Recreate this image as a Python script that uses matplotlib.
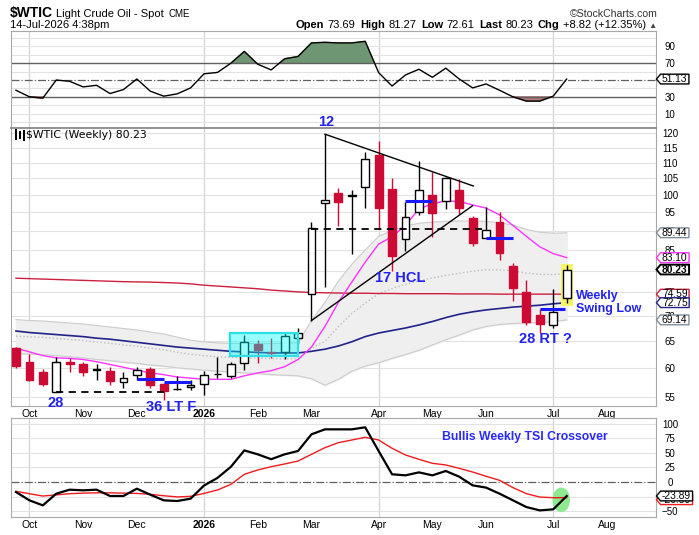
import numpy as np
import pandas as pd
import matplotlib
matplotlib.use('Agg')
import matplotlib.pyplot as plt
from matplotlib.path import Path
from matplotlib.patches import Rectangle, Ellipse

plt.rcParams['font.family'] = ['Liberation Sans', 'DejaVu Sans']

# ---------------- data ----------------
start_week = '2025-09-29'
opens = [63.6, 61.0, 59.2, 55.9, 61.1, 60.7, 59.8, 59.5, 57.5, 58.7, 59.8, 57.2, 56.35, 56.7,
         57.2, 59.0, 58.5, 60.8, 64.3, 62.8, 62.9, 65.5, 74.6, 97.6, 100.5, 99.9, 102.3, 112.6,
         101.7, 87.8, 95.2, 100.0, 98.1, 101.5, 93.4, 88.0, 92.4, 81.1, 75.1, 70.15, 68.0, 73.69]
highs = [63.8, 62.5, 59.8, 62.0, 61.8, 61.0, 60.7, 60.2, 59.3, 60.1, 60.1, 57.3, 58.5, 57.9,
         59.5, 61.9, 61.0, 66.1, 65.1, 65.5, 66.7, 67.5, 92.3, 119.7, 102.0, 101.5, 113.4, 117.3,
         105.3, 97.9, 110.6, 107.0, 105.6, 104.8, 94.0, 96.6, 95.2, 81.9, 77.8, 71.4, 75.7, 81.27]
lows = [59.9, 57.7, 56.8, 55.8, 59.3, 58.5, 57.8, 57.0, 56.6, 57.8, 56.6, 54.5, 56.2, 56.2,
        55.3, 58.2, 58.2, 59.6, 60.8, 61.8, 61.5, 64.3, 69.0, 76.3, 91.3, 83.9, 96.2, 90.4,
        79.9, 84.8, 94.3, 88.2, 96.0, 94.5, 85.9, 88.0, 82.5, 73.2, 68.1, 66.6, 67.4, 72.61]
closes = [60.4, 57.8, 57.2, 61.1, 60.6, 59.3, 59.7, 57.7, 58.2, 59.7, 57.0, 56.1, 56.3, 57.1,
          58.7, 58.9, 60.6, 64.8, 63.2, 62.7, 66.0, 66.6, 90.6, 98.6, 97.9, 99.8, 111.1, 96.1,
          83.4, 93.8, 101.4, 94.9, 105.1, 96.1, 86.9, 90.1, 84.3, 76.0, 68.8, 68.3, 70.8, 80.23]

ma_short = [63.6, 62.9, 62.2, 61.8, 61.7, 61.5, 61.1, 60.6, 60.1, 59.6, 59.1, 58.8, 58.4, 58.2,
            58.0, 58.0, 58.0, 58.6, 59.1, 59.5, 60.2, 61.5, 63.8, 67.8, 72.8, 77.3, 82.0, 86.5,
            88.4, 91.4, 96.0, 97.4, 98.3, 98.1, 97.1, 96.2, 94.3, 91.4, 88.5, 85.8, 84.1, 83.10]
ma_mid = [66.9, 66.6, 66.4, 66.2, 66.0, 65.8, 65.5, 65.3, 65.0, 64.7, 64.4, 64.1, 63.8, 63.6,
          63.4, 63.2, 63.0, 62.9, 62.8, 62.7, 62.7, 62.7, 63.0, 63.4, 64.0, 64.8, 65.8, 66.5,
          67.0, 67.5, 68.1, 68.8, 69.6, 70.3, 70.8, 71.2, 71.5, 71.8, 72.0, 72.2, 72.5, 72.75]
ma_long = [78.2, 78.1, 78.0, 77.9, 77.8, 77.7, 77.6, 77.5, 77.4, 77.35, 77.3, 77.2, 77.1, 76.9,
           76.6, 76.4, 76.2, 76.0, 75.8, 75.5, 75.3, 75.1, 74.95, 74.9, 74.85, 74.8, 74.8, 74.75,
           74.75, 74.7, 74.7, 74.7, 74.7, 74.65, 74.65, 74.65, 74.6, 74.6, 74.6, 74.6, 74.6, 74.59]
bb_upper = [69.2, 69.0, 68.9, 68.7, 68.5, 68.3, 68.0, 67.7, 67.4, 67.1, 66.7, 66.3, 65.7, 65.1,
            64.8, 64.6, 64.5, 64.5, 64.5, 64.5, 64.5, 64.6, 69.0, 72.8, 77.5, 81.5, 85.0, 88.5,
            90.0, 91.2, 92.0, 92.3, 92.5, 92.6, 92.6, 92.5, 92.1, 91.5, 90.3, 89.6, 89.3, 89.44]
bb_lower = [62.6, 62.5, 62.4, 62.2, 62.0, 61.8, 61.5, 61.3, 61.0, 60.8, 60.5, 60.3, 60.0, 59.8,
            59.6, 59.4, 59.3, 59.1, 59.0, 58.8, 58.7, 58.6, 58.1, 57.0, 58.0, 59.4, 60.3, 60.9,
            61.7, 62.4, 63.2, 64.2, 65.2, 66.1, 67.1, 67.8, 68.2, 68.4, 68.5, 68.6, 68.8, 69.14]

rsi = [37.8, 30.0, 28.4, 50.0, 48.4, 41.8, 43.7, 33.9, 38.6, 51.2, 36.7, 30.8, 33.5, 40.6,
       57.4, 59.0, 70.0, 84.0, 68.8, 62.0, 75.2, 78.0, 94.1, 94.8, 94.1, 94.1, 96.0, 58.8,
       42.8, 56.0, 62.8, 53.2, 64.1, 51.2, 40.6, 45.3, 37.8, 30.0, 24.9, 24.9, 30.8, 51.13]

tsi = [-17.1, -31.3, -39.9, -19.9, -13.1, -14.2, -13.1, -23.9, -23.9, -11.4, -21.7, -31.3, -32.5,
       -28.5, -6.0, 7.0, 26.0, 54.0, 47.3, 39.0, 47.3, 53.0, 81.5, 90.0, 90.0, 90.0, 93.5, 53.0,
       13.2, 11.4, 16.5, 11.4, 18.8, 9.1, -5.7, -9.6, -19.9, -31.3, -42.8, -48.5, -46.7, -23.89]
tsi_signal = [-16.0, -20.0, -24.0, -22.0, -20.0, -19.0, -18.5, -18.5, -19.0, -19.5, -21.0, -23.5,
              -25.5, -24.5, -19.5, -13.7, -4.0, 13.2, 20.5, 26.2, 30.8, 35.9, 47.3, 58.7, 67.2,
              71.8, 76.4, 71.8, 57.6, 46.2, 38.8, 32.0, 29.1, 23.4, 17.1, 9.8, 2.9, -9.6, -19.9,
              -25.7, -26.8, -26.8]

price_ticks = [55, 60, 65, 70, 75, 80, 85, 90, 95, 100, 105, 110, 115, 120]
rsi_ticks = [10, 30, 50, 70, 90]
tsi_ticks = [-50, 0, 25, 50, 75, 100]

# user drawn annotations (bar index, price)
tri_upper_idx = [23, 34.05]
tri_upper_val = [119.7, 102.7]
tri_lower_idx = [22, 34.0]
tri_lower_val = [69.0, 96.9]
dashed_start = [3, 22]
dashed_end = [11, 34.7]
dashed_level = [55.8, 90.4]
swing_start = [9, 11, 29, 35, 39]
swing_end = [11, 13, 31, 37, 40.9]
swing_level = [58.0, 57.6, 98.1, 88.0, 71.4]

# ---------------- layout ----------------
W, H = 699, 535
fig = plt.figure(figsize=(W / 100, H / 100), dpi=100)
fig.patch.set_facecolor('white')


def axrect(x0, y0, x1, y1):
    return [x0 / W, 1 - y1 / H, (x1 - x0) / W, (y1 - y0) / H]


ax_rsi = fig.add_axes(axrect(11, 31, 656, 128))
ax = fig.add_axes(axrect(11, 128, 656, 406))
ax_tsi = fig.add_axes(axrect(11, 418, 656, 517))

n = len(closes)
x = np.arange(n)
weeks = pd.date_range(start_week, periods=n, freq='W-MON')
all_weeks = pd.date_range(start_week, periods=48, freq='W-MON')
tick_idx, tick_lab, quarter_idx = [], [], []
for k in range(1, len(all_weeks)):
    if all_weeks[k].month != all_weeks[k - 1].month:
        tick_idx.append(k)
        m = all_weeks[k].month
        tick_lab.append(str(all_weeks[k].year) if m == 1 else all_weeks[k].strftime('%b'))
        if m in (1, 4, 7, 10):
            quarter_idx.append(k)

XL = (-0.37, 47.65)
GRID = '#e2e2e2'
SPINE = '#a8a8a8'
BLUE = '#2222ee'

for a in (ax_rsi, ax, ax_tsi):
    a.set_xlim(*XL)
    for s in a.spines.values():
        s.set_color(SPINE)
        s.set_linewidth(0.8)
    for q in quarter_idx:
        a.axvline(q, color='#d4d4d4', lw=0.9, zorder=0.5)
    a.yaxis.tick_right()
    a.tick_params(axis='both', which='both', length=0)
    a.tick_params(axis='y', pad=10, labelsize=7)


def tag_box(x0, y0, width, height, mutation_size):
    cy = y0 + height / 2
    h = mutation_size * 0.95
    padx = mutation_size * 0.14
    xl, xr = x0 - padx, x0 + width + padx
    yb, yt = cy - h / 2, cy + h / 2
    tip = h * 0.42
    return Path([(xl, yb), (xr, yb), (xr, yt), (xl, yt), (xl - tip, cy), (xl, yb)], closed=True)


def tag(axis, val, ec, bold=False, dy=0, fmt='{:.2f}'):
    axis.annotate(fmt.format(val), xy=(1, val), xycoords=('axes fraction', 'data'),
                  xytext=(6, dy), textcoords='offset pixels', ha='left', va='center',
                  fontsize=7.4, fontweight='bold' if bold else 'normal', color='black',
                  annotation_clip=False, zorder=30,
                  bbox=dict(boxstyle=tag_box, fc='white', ec=ec, lw=1.4 if bold else 1.0))


# ---------------- RSI panel ----------------
rsi_a = np.array(rsi)
ax_rsi.set_ylim(-7.1, 108.3)
for g in range(0, 101, 10):
    if g not in (30, 50, 70):
        ax_rsi.axhline(g, color=GRID, lw=0.8, zorder=0.6)
ax_rsi.fill_between(x, rsi_a, 70, where=rsi_a >= 70, interpolate=True, color='#6f9672', zorder=1)
ax_rsi.fill_between(x, rsi_a, 30, where=rsi_a <= 30, interpolate=True, color='#ad7676', zorder=1)
ax_rsi.axhline(70, color='#606060', lw=1.0, zorder=1.2)
ax_rsi.axhline(30, color='#606060', lw=1.0, zorder=1.2)
ax_rsi.axhline(50, color='#606060', lw=0.9, ls='-.', zorder=1.2)
ax_rsi.plot(x, rsi_a, color='black', lw=1.0, zorder=2)
ax_rsi.set_yticks(rsi_ticks)
ax_rsi.set_xticks(tick_idx)
ax_rsi.tick_params(axis='x', labelbottom=False)
plt.setp(ax_rsi.get_yticklabels(), ha='center')
tag(ax_rsi, rsi[-1], 'black')

# ---------------- price panel ----------------
ax.set_yscale('log')
ax.set_ylim(53.6, 121.9)
ax.yaxis.set_minor_locator(matplotlib.ticker.NullLocator())
ax.set_yticks(price_ticks, [str(t) for t in price_ticks])
plt.setp(ax.get_yticklabels(), ha='center')
for t in price_ticks:
    ax.axhline(t, color=GRID, lw=0.8, zorder=0.6)
ax.spines['top'].set_color('#808080')
ax.spines['top'].set_linewidth(1.2)

bb_u = np.array(bb_upper)
bb_l = np.array(bb_lower)
ax.fill_between(x, bb_l, bb_u, color='#efefef', zorder=1)
ax.plot(x, bb_u, color='#cccccc', lw=0.8, zorder=1.1)
ax.plot(x, bb_l, color='#cccccc', lw=0.8, zorder=1.1)
ax.plot(x, (bb_u + bb_l) / 2, color='#bdbdbd', lw=1.0, ls=':', zorder=1.1)

ax.plot(x, ma_long, color='#cc1f3f', lw=1.0, zorder=2.5)
ax.plot(x, ma_mid, color='#22228a', lw=1.2, zorder=2.5)
ax.plot(x, ma_short, color='#ff33ff', lw=1.0, zorder=2.5)

# yellow highlight behind last candle
ax.add_patch(Rectangle((40.55, 72.0), 0.9, 81.5 - 72.0, facecolor='#f6f466', edgecolor='none', zorder=2.6))

# candles
RED = '#cc0a33'
o = np.array(opens); h = np.array(highs); l = np.array(lows); c = np.array(closes)
prev = np.concatenate([[o[0]], c[:-1]])
wick_cols, fcs, ecs = [], [], []
for i in range(n):
    col = RED if c[i] < prev[i] else 'black'
    wick_cols.append(col)
    ecs.append(col)
    fcs.append(col if c[i] < o[i] else 'white')
ax.vlines(x, l, h, colors=wick_cols, lw=1.0, zorder=3)
bottoms = np.minimum(o, c)
heights = np.maximum(np.abs(c - o), 0.05)
ax.bar(x, heights, bottom=bottoms, width=0.58, color=fcs, edgecolor=ecs, linewidth=1.0, zorder=4)

# cyan consolidation box
ax.add_patch(Rectangle((15.9, 62.2), 21.0 - 15.9, 66.6 - 62.2, facecolor=(0, 1, 1, 0.4),
                       edgecolor='#2ee0e6', lw=1.6, zorder=5))

# trend lines / levels
ax.plot(tri_upper_idx, tri_upper_val, color='black', lw=1.0, zorder=6)
ax.plot(tri_lower_idx, tri_lower_val, color='black', lw=1.0, zorder=6)
for s, e, v in zip(dashed_start, dashed_end, dashed_level):
    ax.plot([s, e], [v, v], color='black', lw=1.3, dashes=(4, 3), zorder=6)
for s, e, v in zip(swing_start, swing_end, swing_level):
    ax.plot([s, e], [v, v], color='#1a1aff', lw=2.2, zorder=6, solid_capstyle='butt')

# text annotations
akw = dict(color=BLUE, fontweight='bold', ha='center', va='center', zorder=12, clip_on=False)
ax.text(23.06, 124.2, '12', fontsize=10.5, **akw)
ax.text(28.6, 78.35, '17 HCL', fontsize=10.5, **akw)
ax.text(39.4, 65.3, '28 RT ?', fontsize=10.5, **akw)
ax.text(2.98, 54.0, '28', fontsize=10.5, **akw)
ax.text(11.54, 53.5, '36 LT F', fontsize=10.5, **akw)
ax.text(41.7, 74.2, 'Weekly', fontsize=9, color=BLUE, fontweight='bold', ha='left', va='center', zorder=12)
ax.text(41.7, 71.4, 'Swing Low', fontsize=9, color=BLUE, fontweight='bold', ha='left', va='center', zorder=12)

# panel title with small icon
ax.text((26 - 11) / 645, (406 - 135) / 278, '$WTIC (Weekly) 80.23', transform=ax.transAxes,
        fontsize=7.8, family='DejaVu Sans', ha='left', va='center', zorder=12)
for dx, y0, y1 in [(3.5, 129, 140), (7.5, 131, 139), (11.5, 130, 141)]:
    ax.add_patch(Rectangle(((dx) / 645, (406 - y1) / 278), 2.2 / 645, (y1 - y0) / 278,
                           transform=ax.transAxes, facecolor='black', edgecolor='none', zorder=12))

ax.set_xticks(tick_idx, tick_lab)
ax.tick_params(axis='x', pad=2, labelsize=7.5)

# value tags
tag(ax, bb_upper[-1], '#7f8c99')
tag(ax, ma_short[-1], '#ff33ff')
tag(ax, closes[-1], 'black', bold=True)
tag(ax, ma_long[-1], '#cc1f3f')
tag(ax, ma_mid[-1], '#22228a')
tag(ax, bb_lower[-1], '#7f8c99')

# ---------------- TSI panel ----------------
ax_tsi.set_ylim(-59.8, 109.4)
for g in (-50, -25, 25, 50, 75, 100):
    ax_tsi.axhline(g, color=GRID, lw=0.8, zorder=0.6)
ax_tsi.axhline(0, color='#606060', lw=0.9, ls='-.', zorder=1.2)
ax_tsi.add_patch(Ellipse((40.6, -30.5), 1.3, 42, facecolor='#8eea8e', edgecolor='none', zorder=1.5))
ax_tsi.plot(x, tsi_signal, color='#ee1c1c', lw=1.0, zorder=2)
ax_tsi.plot(x, tsi, color='black', lw=1.6, zorder=2.2)
ax_tsi.set_yticks(tsi_ticks)
plt.setp(ax_tsi.get_yticklabels(), ha='center')
ax_tsi.set_xticks(tick_idx, tick_lab)
ax_tsi.tick_params(axis='x', pad=2, labelsize=7.5)
ax_tsi.text(37.86, 76.9, 'Bullis Weekly TSI Crossover', color='#2a2aff', fontsize=8.8,
            fontweight='bold', ha='center', va='center', zorder=12)
tag(ax_tsi, tsi_signal[-1], '#ee1c1c', dy=-2)
tag(ax_tsi, tsi[-1], 'black')

for a in (ax, ax_tsi):
    for lab in a.get_xticklabels():
        if lab.get_text().isdigit():
            lab.set_fontweight('bold')

# ---------------- header ----------------
renderer = fig.canvas.get_renderer()


def runs(items, x_px, y_px, align='left'):
    objs, widths = [], []
    for s, kw, gap in items:
        t = fig.text(0, 0, s, va='baseline', ha='left', **kw)
        widths.append(t.get_window_extent(renderer).width + gap)
        objs.append(t)
    xx = x_px - sum(widths) if align == 'right' else x_px
    for t, w in zip(objs, widths):
        t.set_position((xx / W, 1 - y_px / H))
        xx += w


runs([('$WTIC', dict(fontsize=10, fontweight='bold'), 3),
      ('Light Crude Oil - Spot', dict(fontsize=8), 5),
      ('CME', dict(fontsize=7), 0)], 10, 17)
fig.text(10 / W, 1 - 28.3 / H, '14-Jul-2026 4:38pm', fontsize=8, va='baseline', ha='left')
fig.text(658 / W, 1 - 16.7 / H, '\u00a9StockCharts.com', fontsize=7.6, va='baseline', ha='right',
         color='#333333')
B = dict(fontsize=8.0, fontweight='bold')
R = dict(fontsize=8.0)
runs([('Open', B, 3), ('73.69', R, 5), ('High', B, 3), ('81.27', R, 5), ('Low', B, 3),
      ('72.61', R, 5), ('Last', B, 3), ('80.23', R, 5), ('Chg', B, 3), ('+8.82 (+12.35%)', R, 3),
      ('\u25b2', dict(fontsize=6, color='#444444'), 0)], 657, 28.5, align='right')

fig.savefig('out.png', dpi=100, facecolor='white')
